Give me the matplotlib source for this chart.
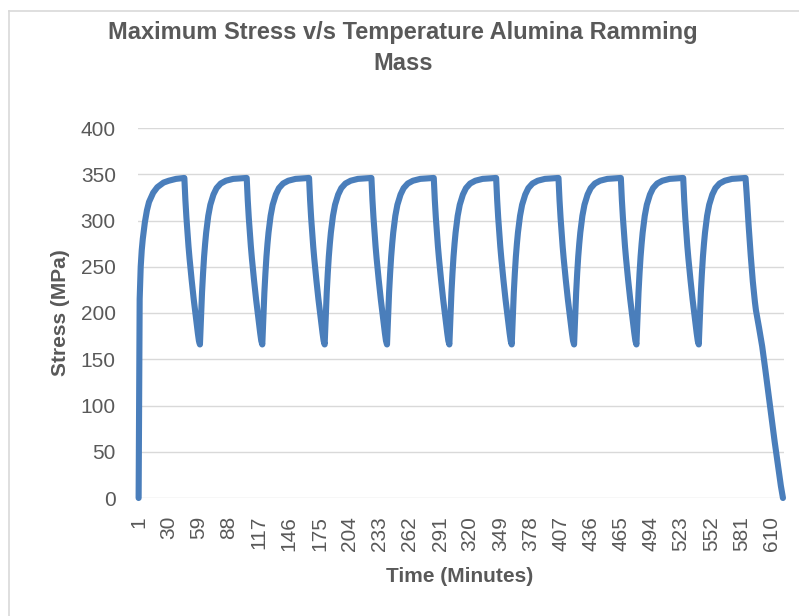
import matplotlib.pyplot as plt
from matplotlib.lines import Line2D

plt.rcParams['font.family'] = ['Liberation Sans', 'DejaVu Sans']

# Readings taken off the chart (minute, stress in MPa)
minutes = [
    1, 2, 3, 4, 5, 7, 9, 11, 15, 19, 25, 30, 37, 45, 46, 47, 48, 49, 50, 52, 54, 56, 58, 59,
    60, 61, 62, 63, 64, 65, 66, 68, 70, 73, 76, 80, 85, 92, 105, 106, 107, 108, 109, 110, 112, 114, 116, 118, 119,
    120, 121, 122, 123, 124, 125, 126, 128, 130, 133, 136, 140, 145, 152, 165, 166, 167, 168, 169, 170, 172, 174, 176, 178, 179,
    180, 181, 182, 183, 184, 185, 186, 188, 190, 193, 196, 200, 205, 212, 225, 226, 227, 228, 229, 230, 232, 234, 236, 238, 239,
    240, 241, 242, 243, 244, 245, 246, 248, 250, 253, 256, 260, 265, 272, 285, 286, 287, 288, 289, 290, 292, 294, 296, 298, 299,
    300, 301, 302, 303, 304, 305, 306, 308, 310, 313, 316, 320, 325, 332, 345, 346, 347, 348, 349, 350, 352, 354, 356, 358, 359,
    360, 361, 362, 363, 364, 365, 366, 368, 370, 373, 376, 380, 385, 392, 405, 406, 407, 408, 409, 410, 412, 414, 416, 418, 419,
    420, 421, 422, 423, 424, 425, 426, 428, 430, 433, 436, 440, 445, 452, 465, 466, 467, 468, 469, 470, 472, 474, 476, 478, 479,
    480, 481, 482, 483, 484, 485, 486, 488, 490, 493, 496, 500, 505, 512, 525, 526, 527, 528, 529, 530, 532, 534, 536, 538, 539,
    540, 541, 542, 543, 544, 545, 546, 548, 550, 553, 556, 560, 565, 572, 585,
    586, 587, 588, 590, 592, 594, 595, 598, 601, 604, 607, 610, 613, 616, 619, 621,
]
stress = [
    0, 215, 250, 268, 280, 298, 311, 320, 330, 336, 341, 343, 345, 346, 322, 303, 287, 272, 259, 236, 215, 196, 178, 170,
    166, 195, 222, 243, 261, 275, 287, 305, 317, 328, 335, 340, 343, 345, 346, 322, 303, 287, 272, 259, 236, 215, 196, 178, 170,
    166, 195, 222, 243, 261, 275, 287, 305, 317, 328, 335, 340, 343, 345, 346, 322, 303, 287, 272, 259, 236, 215, 196, 178, 170,
    166, 195, 222, 243, 261, 275, 287, 305, 317, 328, 335, 340, 343, 345, 346, 322, 303, 287, 272, 259, 236, 215, 196, 178, 170,
    166, 195, 222, 243, 261, 275, 287, 305, 317, 328, 335, 340, 343, 345, 346, 322, 303, 287, 272, 259, 236, 215, 196, 178, 170,
    166, 195, 222, 243, 261, 275, 287, 305, 317, 328, 335, 340, 343, 345, 346, 322, 303, 287, 272, 259, 236, 215, 196, 178, 170,
    166, 195, 222, 243, 261, 275, 287, 305, 317, 328, 335, 340, 343, 345, 346, 322, 303, 287, 272, 259, 236, 215, 196, 178, 170,
    166, 195, 222, 243, 261, 275, 287, 305, 317, 328, 335, 340, 343, 345, 346, 322, 303, 287, 272, 259, 236, 215, 196, 178, 170,
    166, 195, 222, 243, 261, 275, 287, 305, 317, 328, 335, 340, 343, 345, 346, 322, 303, 287, 272, 259, 236, 215, 196, 178, 170,
    166, 195, 222, 243, 261, 275, 287, 305, 317, 328, 335, 340, 343, 345, 346,
    330, 311, 294, 262, 234, 212, 203, 184, 164, 139, 113, 87, 61, 37, 13, 0,
]

x_ticks = [1, 30, 59, 88, 117, 146, 175, 204, 233, 262, 291, 320, 349, 378,
           407, 436, 465, 494, 523, 552, 581, 610]
y_ticks = [0, 50, 100, 150, 200, 250, 300, 350, 400]

W, H = 799, 616
fig = plt.figure(figsize=(W / 100, H / 100), dpi=100)
ax = fig.add_axes([138 / W, 118 / H, 646 / W, 370 / H])

ax.plot(minutes, stress, color='#4A7EBB', linewidth=4.4,
        solid_capstyle='round', solid_joinstyle='round', clip_on=False)

ax.set_xlim(0.4, 622)
ax.set_ylim(0, 400)
ax.set_xticks(x_ticks)
ax.set_xticklabels([str(t) for t in x_ticks], rotation=90)
ax.set_yticks(y_ticks)
ax.grid(axis='y', color='#D9D9D9', linewidth=1)
ax.set_axisbelow(True)
for s in ax.spines.values():
    s.set_visible(False)
ax.tick_params(axis='both', length=0, labelsize=15, labelcolor='#595959')
ax.tick_params(axis='x', pad=13)
ax.tick_params(axis='y', pad=16)

# titles
fig.text(403 / W, 1 - 33 / H, 'Maximum Stress v/s Temperature Alumina Ramming',
         ha='center', va='center', fontsize=17, fontweight='bold', color='#595959')
fig.text(403 / W, 1 - 64 / H, 'Mass',
         ha='center', va='center', fontsize=17, fontweight='bold', color='#595959')
fig.text(60 / W, 1 - 313 / H, 'Stress (MPa)', rotation=90,
         ha='center', va='center', fontsize=15, fontweight='bold', color='#595959')
fig.text(460 / W, 1 - 577 / H, 'Time (Minutes)',
         ha='center', va='center', fontsize=15, fontweight='bold', color='#595959')

# chart border (only top and left edges visible in frame)
fig.add_artist(Line2D([9 / W, 9 / W], [0, 1 - 11 / H], transform=fig.transFigure,
                      color='#D9D9D9', linewidth=1.2))
fig.add_artist(Line2D([9 / W, 1], [1 - 11 / H, 1 - 11 / H], transform=fig.transFigure,
                      color='#D9D9D9', linewidth=1.2))

fig.savefig('out.png', dpi=100)
